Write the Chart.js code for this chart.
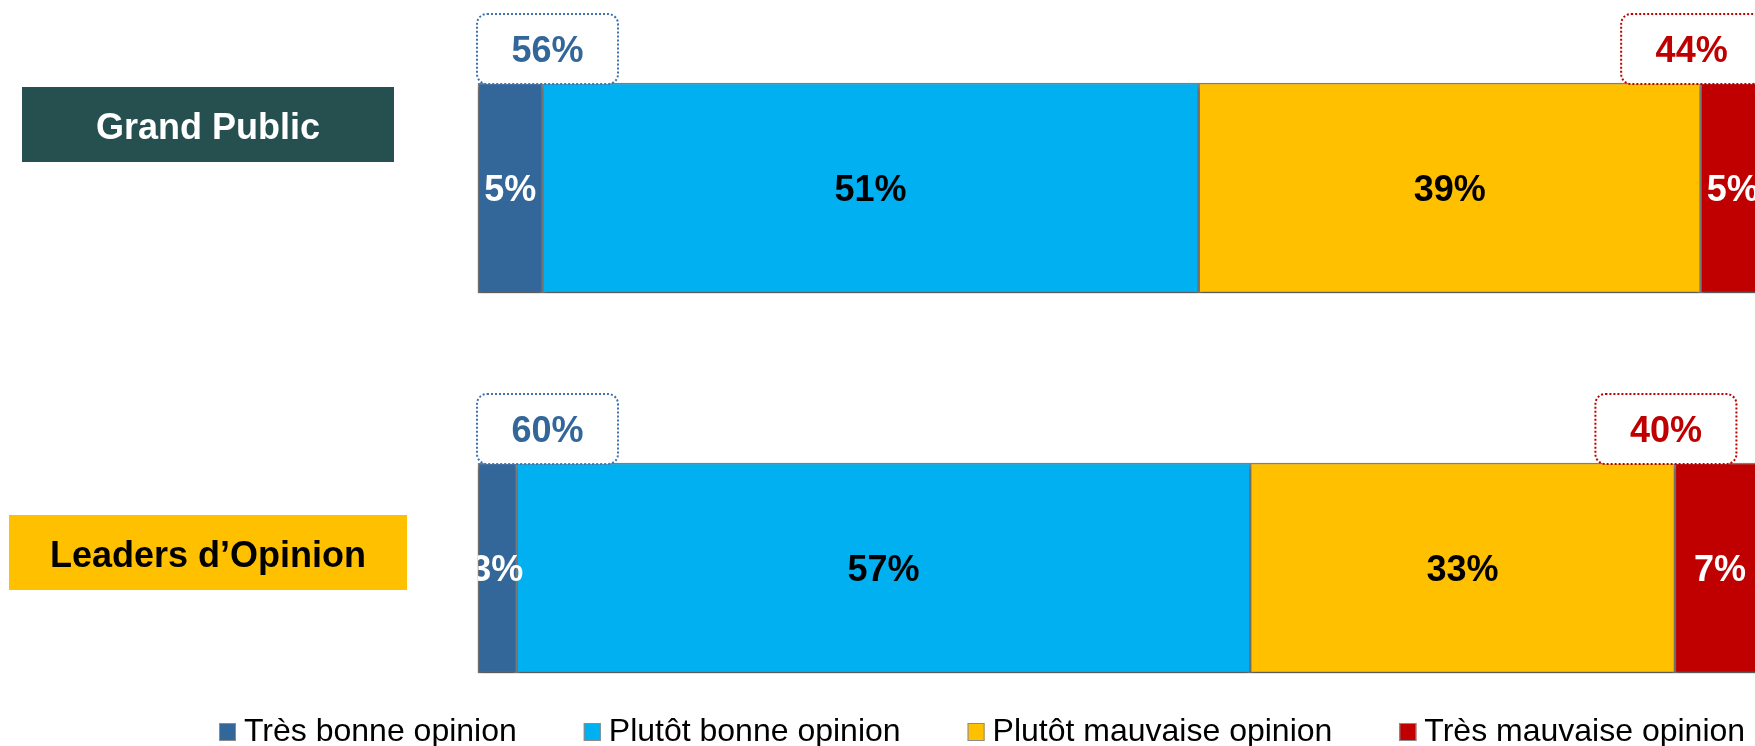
<!DOCTYPE html>
<html>
<head>
<meta charset="utf-8">
<script src="https://cdn.jsdelivr.net/npm/chart.js@4"></script>
<style>
  html, body { margin: 0; padding: 0; background: #fff; overflow: hidden; }
  #wrap { position: relative; width: 1770px; height: 746px; }
</style>
</head>
<body>
<div id="wrap"><canvas id="chart"></canvas></div>
<script>
// data
const categories = ['Grand Public', 'Leaders d\u2019Opinion']
const seriesNames = ['Très bonne opinion', 'Plutôt bonne opinion', 'Plutôt mauvaise opinion', 'Très mauvaise opinion']
const tresBonne = [5, 3]
const plutotBonne = [51, 57]
const plutotMauvaise = [39, 33]
const tresMauvaise = [5, 7]

// styles
const seriesColors = ['#336699', '#00B0F0', '#FFC000', '#C00000']
const valueColors = ['#FFFFFF', '#000000', '#000000', '#FFFFFF']
const catBoxColors = ['#25504F', '#FFC000']
const catTextColors = ['#FFFFFF', '#000000']
const catBoxes = [[22, 87, 372, 75], [9, 515, 398, 75]]   // x, y, w, h
const FONT = '"Liberation Sans", Arial, sans-serif'

function dottedBox(ctx, x, y, w, h, lineColor, text, textColor) {
  ctx.save()
  ctx.beginPath()
  ctx.roundRect(x, y, w, h, 10)
  ctx.fillStyle = '#FFFFFF'
  ctx.fill()
  ctx.setLineDash([2, 2])
  ctx.lineWidth = 2
  ctx.strokeStyle = lineColor
  ctx.stroke()
  ctx.setLineDash([])
  ctx.font = 'bold 36px ' + FONT
  ctx.textAlign = 'center'
  ctx.textBaseline = 'alphabetic'
  ctx.fillStyle = textColor
  ctx.fillText(text, x + w / 2, y + h / 2 + 13)
  ctx.restore()
}

const barShadow = {
  id: 'barShadow',
  beforeDatasetsDraw(chart) {
    const c = chart.ctx
    c.save()
    c.shadowColor = 'rgba(0,0,0,0.3)'
    c.shadowBlur = 4
    c.shadowOffsetY = 4
  },
  afterDatasetsDraw(chart) { chart.ctx.restore() }
}

// value inside each segment
const segmentLabels = {
  id: 'segmentLabels',
  afterDatasetsDraw(chart) {
    const ctx = chart.ctx, area = chart.chartArea
    ctx.save()
    ctx.beginPath()
    ctx.rect(area.left, 0, chart.width - area.left, chart.height)
    ctx.clip()
    ctx.font = 'bold 36px ' + FONT
    ctx.textAlign = 'center'
    ctx.textBaseline = 'alphabetic'
    chart.data.datasets.forEach((ds, i) => {
      chart.getDatasetMeta(i).data.forEach((bar, j) => {
        const p = bar.getProps(['x', 'y', 'base'], true)
        ctx.fillStyle = valueColors[i]
        ctx.fillText(ds.data[j] + '%', (p.x + p.base) / 2, p.y + 13)
      })
    })
    ctx.restore()
  }
}

// good / bad totals above the bars
const totalBoxes = {
  id: 'totalBoxes',
  afterDatasetsDraw(chart) {
    const ctx = chart.ctx
    const first = chart.getDatasetMeta(0), last = chart.getDatasetMeta(3)
    categories.forEach((c, j) => {
      const good = tresBonne[j] + plutotBonne[j]
      const bad = plutotMauvaise[j] + tresMauvaise[j]
      const b0 = first.data[j].getProps(['y', 'base', 'height'], true)
      const b3 = last.data[j].getProps(['y', 'base', 'height'], true)
      const top = b0.y - b0.height / 2
      dottedBox(ctx, b0.base - 1, top - 69, 141, 70, '#3F72AF', good + '%', '#336699')
      dottedBox(ctx, b3.base - 9 - 70.5, top - 69, 141, 70, '#C00000', bad + '%', '#C00000')
    })
  }
}

const categoryBoxes = {
  id: 'categoryBoxes',
  afterDraw(chart) {
    const ctx = chart.ctx
    ctx.save()
    ctx.font = 'bold 36px ' + FONT
    ctx.textAlign = 'center'
    ctx.textBaseline = 'alphabetic'
    categories.forEach((c, j) => {
      const [x, y, w, h] = catBoxes[j]
      ctx.fillStyle = catBoxColors[j]
      ctx.fillRect(x, y, w, h)
      ctx.fillStyle = catTextColors[j]
      ctx.fillText(c, x + w / 2, y + h / 2 + 14)
    })
    ctx.restore()
  }
}

const bottomLegend = {
  id: 'bottomLegend',
  afterDraw(chart) {
    const ctx = chart.ctx
    ctx.save()
    ctx.font = '32px ' + FONT
    ctx.textBaseline = 'alphabetic'
    let x = 219
    chart.data.datasets.forEach(ds => {
      ctx.fillStyle = ds.backgroundColor
      ctx.fillRect(x, 723, 17, 18)
      ctx.strokeStyle = '#8C8C8C'
      ctx.lineWidth = 1
      ctx.strokeRect(x + 0.5, 723.5, 16, 17)
      ctx.fillStyle = '#000000'
      ctx.fillText(ds.label, x + 25, 741)
      x += 25 + ctx.measureText(ds.label).width + 67
    })
    ctx.restore()
  }
}

const seriesData = [tresBonne, plutotBonne, plutotMauvaise, tresMauvaise]

new Chart(document.getElementById('chart'), {
  type: 'bar',
  data: {
    labels: categories,
    datasets: seriesNames.map((name, i) => ({
      label: name,
      data: seriesData[i],
      backgroundColor: seriesColors[i],
      borderColor: '#7F7F7F',
      borderWidth: 1.5,
      borderSkipped: false,
      barThickness: 210,
      clip: false
    }))
  },
  options: {
    indexAxis: 'y',
    responsive: true,
    maintainAspectRatio: false,
    animation: false,
    layout: { padding: { left: 478, right: 5, top: 188, bottom: 178 } },
    scales: {
      x: { stacked: true, min: 0, max: 100, display: false },
      y: { stacked: true, display: false, offset: false }
    },
    plugins: { legend: { display: false }, tooltip: { enabled: false } }
  },
  plugins: [barShadow, segmentLabels, totalBoxes, categoryBoxes, bottomLegend]
})
</script>
</body>
</html>
